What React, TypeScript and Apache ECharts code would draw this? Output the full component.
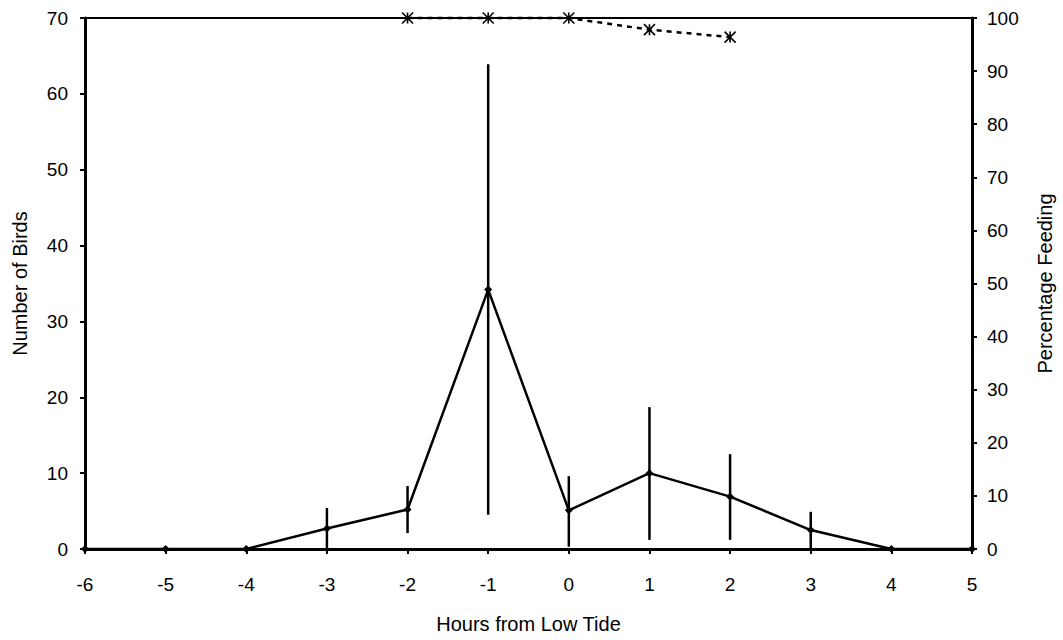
import React, { useEffect, useRef } from "react";
import * as echarts from "echarts";

const hours = [-6, -5, -4, -3, -2, -1, 0, 1, 2, 3, 4, 5];
const birds = [0, 0, 0, 2.7, 5.2, 34.2, 5.1, 10.0, 6.9, 2.5, 0, 0];
const errHours = [-3, -2, -1, 0, 1, 2, 3];
const errLow = [0, 2.1, 4.5, 0.3, 1.2, 1.2, 0];
const errHigh = [5.4, 8.3, 63.9, 9.6, 18.7, 12.5, 4.9];
const pctHours = [-2, -1, 0, 1, 2];
const pctFeeding = [100, 100, 100, 97.8, 96.4];

const FONT = "Liberation Sans, Arial, sans-serif";

export default function App() {
  const ref = useRef<HTMLDivElement>(null);
  useEffect(() => {
    const chart = echarts.init(ref.current!, null, { renderer: "svg" });
    const axisText = { color: "#000", fontSize: 19, fontFamily: FONT };
    const nameText = { color: "#000", fontSize: 20, fontFamily: FONT };
    const tick = { show: true, inside: false, length: 5, lineStyle: { color: "#000", width: 2 } };
    chart.setOption({
      animation: false,
      backgroundColor: "#fff",
      grid: {
        left: 85,
        right: 86,
        top: 18,
        bottom: 91,
        show: true,
        borderColor: "#000",
        borderWidth: 2,
      },
      xAxis: {
        type: "value",
        min: -6,
        max: 5,
        interval: 1,
        name: "Hours from Low Tide",
        nameLocation: "middle",
        nameGap: 65,
        nameTextStyle: nameText,
        axisLine: { show: true, onZero: false, lineStyle: { color: "#000", width: 3 } },
        axisTick: tick,
        axisLabel: { ...axisText, margin: 26 },
        splitLine: { show: false },
      },
      yAxis: [
        {
          type: "value",
          min: 0,
          max: 70,
          interval: 10,
          position: "left",
          name: "Number of Birds",
          nameLocation: "middle",
          nameGap: 55,
          nameTextStyle: nameText,
          axisLine: { show: true, onZero: false, lineStyle: { color: "#000", width: 3 } },
          axisTick: tick,
          axisLabel: { ...axisText, margin: 17 },
          splitLine: { show: false },
        },
        {
          type: "value",
          min: 0,
          max: 100,
          interval: 10,
          position: "right",
          name: "Percentage Feeding",
          nameLocation: "middle",
          nameGap: 63,
          nameRotate: 90,
          nameTextStyle: nameText,
          axisLine: { show: true, onZero: false, lineStyle: { color: "#000", width: 3 } },
          axisTick: tick,
          axisLabel: { ...axisText, margin: 15 },
          splitLine: { show: false },
        },
      ],
      series: [
        {
          type: "custom",
          yAxisIndex: 0,
          clip: false,
          data: errHours.map((h, i) => [h, errLow[i], errHigh[i]]),
          renderItem: (params: any, api: any) => {
            const x = api.value(0);
            const p1 = api.coord([x, api.value(1)]);
            const p2 = api.coord([x, api.value(2)]);
            return {
              type: "line",
              shape: { x1: p1[0], y1: p1[1], x2: p2[0], y2: p2[1] },
              style: { stroke: "#000", lineWidth: 2.5 },
            };
          },
          z: 3,
        },
        {
          type: "line",
          yAxisIndex: 0,
          clip: false,
          data: hours.map((h, i) => [h, birds[i]]),
          symbol: "diamond",
          symbolSize: 8,
          itemStyle: { color: "#000" },
          lineStyle: { color: "#000", width: 2.5 },
          z: 4,
        },
        {
          type: "line",
          yAxisIndex: 1,
          clip: false,
          data: pctHours.map((h, i) => [h, pctFeeding[i]]),
          symbol: "path://M0,0L10,10M10,0L0,10M5,0L5,10",
          symbolSize: 11,
          itemStyle: { color: "none", borderColor: "#000", borderWidth: 1.6 },
          lineStyle: { color: "#000", width: 2.5, type: [5, 5] },
          z: 5,
        },
      ],
    });
    return () => chart.dispose();
  }, []);
  return (
    <div
      ref={ref}
      style={{ position: "fixed", left: 0, top: 0, width: 1063, height: 640, background: "#fff" }}
    />
  );
}
